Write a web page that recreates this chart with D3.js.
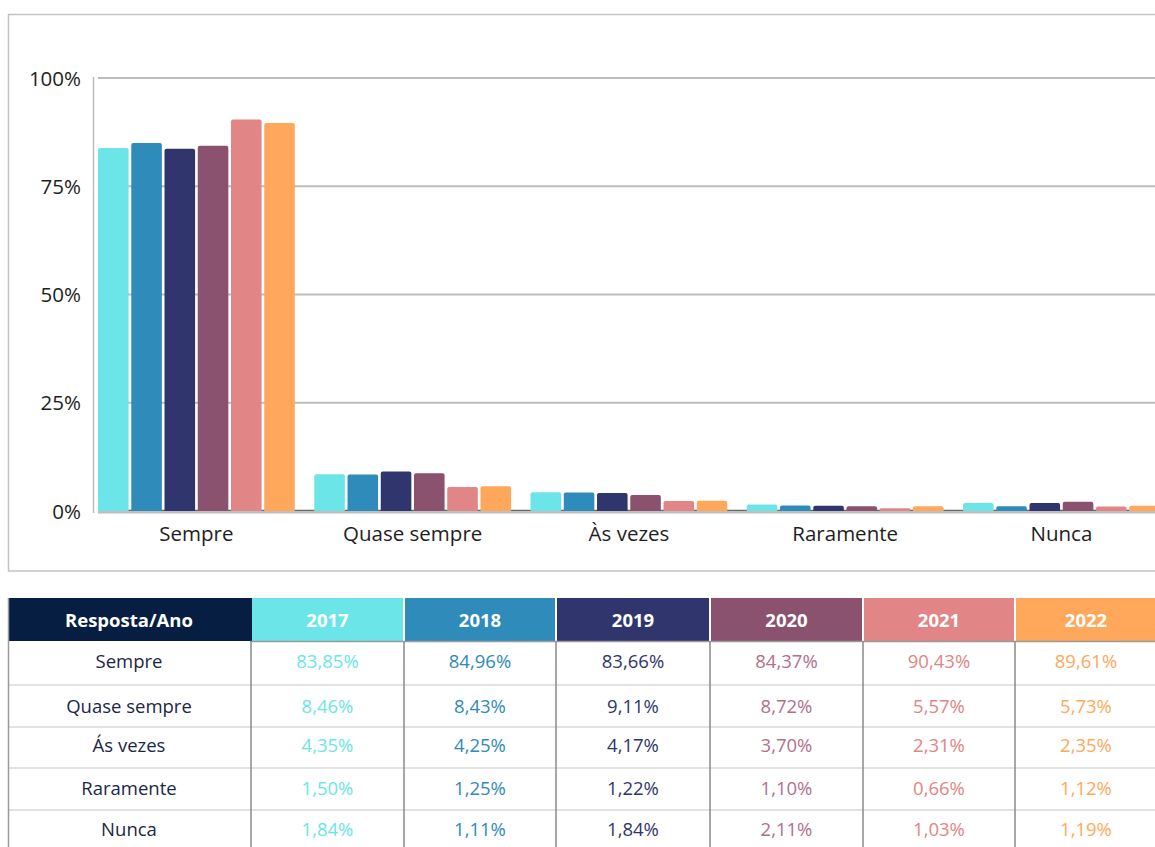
<!DOCTYPE html>
<html>
<head>
<meta charset="utf-8">
<script src="https://cdn.jsdelivr.net/npm/d3@7"></script>
<style>
  html, body { margin: 0; padding: 0; background: #fff; }
  svg { display: block; }
</style>
</head>
<body>
<svg id="chart" width="1155" height="847"></svg>
<script>
// ---------- DATA ----------
const categories = ["Sempre", "Quase sempre", "Às vezes", "Raramente", "Nunca"];
const tableRowLabels = ["Sempre", "Quase sempre", "Ás vezes", "Raramente", "Nunca"];
const years = ["2017", "2018", "2019", "2020", "2021", "2022"];
const values2017 = [83.85, 8.46, 4.35, 1.50, 1.84];
const values2018 = [84.96, 8.43, 4.25, 1.25, 1.11];
const values2019 = [83.66, 9.11, 4.17, 1.22, 1.84];
const values2020 = [84.37, 8.72, 3.70, 1.10, 2.11];
const values2021 = [90.43, 5.57, 2.31, 0.66, 1.03];
const values2022 = [89.61, 5.73, 2.35, 1.12, 1.19];
const yTicks = [0, 25, 50, 75, 100];
const tableHeader = "Resposta/Ano";

const seriesValues = [values2017, values2018, values2019, values2020, values2021, values2022];
const barColors = ["#6CE5E8", "#2E8BBA", "#31356E", "#8B5270", "#E18586", "#FFA85C"];
const textColors = ["#6CE5E8", "#2E8BBA", "#31356E", "#B0708C", "#E18586", "#FFA85C"];

const svg = d3.select("#chart");
const FONT = "'Open Sans', 'Noto Sans', sans-serif";

// ---------- CHART FRAME ----------
svg.append("rect")
  .attr("x", 8.5).attr("y", 14.5).attr("width", 1160).attr("height", 556.5)
  .attr("fill", "#fff").attr("stroke", "#c4c4c4").attr("stroke-width", 1.5);

// ---------- SCALES ----------
const y = d3.scaleLinear().domain([0, 100]).range([511, 78]);
const x0 = d3.scaleBand().domain(categories).range([88.3, 1169.55])
  .paddingInner(0.09).paddingOuter(0.045);
const x1 = d3.scaleBand().domain(years).range([0, x0.bandwidth()])
  .paddingInner(0.08).paddingOuter(0);

svg.append("clipPath").attr("id", "plotclip")
  .append("rect").attr("x", 0).attr("y", 0).attr("width", 1155).attr("height", 847);

// gridlines
svg.append("g").selectAll("line").data(yTicks).join("line")
  .attr("x1", 98).attr("x2", 1155)
  .attr("y1", d => d === 0 ? y(d) + 1.5 : y(d))
  .attr("y2", d => d === 0 ? y(d) + 1.5 : y(d))
  .attr("stroke", "#bdbdbd").attr("stroke-width", 2);

// y axis line
svg.append("line")
  .attr("x1", 93.5).attr("x2", 93.5).attr("y1", y(100) - 1).attr("y2", y(0) + 2)
  .attr("stroke", "#bdbdbd").attr("stroke-width", 1.5);

// y axis tick labels
const yAxis = d3.axisLeft(y).tickValues(yTicks).tickSize(0).tickPadding(0)
  .tickFormat(d => d + "%");
const gy = svg.append("g").attr("transform", "translate(81,0)").call(yAxis);
gy.select(".domain").remove();
gy.selectAll("text").attr("font-family", FONT).attr("font-size", 20.5)
  .attr("fill", "#1e1e1e").attr("dy", "0.35em");

// baseline dark
svg.append("line")
  .attr("x1", 98).attr("x2", 1155).attr("y1", 510.5).attr("y2", 510.5)
  .attr("stroke", "#6a6a6a").attr("stroke-width", 1.5);

// bars
const groups = svg.append("g").attr("clip-path", "url(#plotclip)")
  .selectAll("g").data(categories).join("g")
  .attr("transform", d => `translate(${x0(d)},0)`);

groups.selectAll("path")
  .data((c, ci) => years.map((yr, si) => ({ yr, si, v: seriesValues[si][ci] })))
  .join("path")
  .attr("d", d => {
    const bx = x1(d.yr), bw = x1.bandwidth();
    const top = y(d.v), bot = y(0);
    const r = Math.min(2, (bot - top) / 2);
    return `M${bx},${bot} L${bx},${top + r} Q${bx},${top} ${bx + r},${top} L${bx + bw - r},${top} Q${bx + bw},${top} ${bx + bw},${top + r} L${bx + bw},${bot} Z`;
  })
  .attr("fill", d => barColors[d.si]);

// x axis labels
const xAxis = d3.axisBottom(x0).tickSize(0).tickPadding(0);
const gx = svg.append("g").attr("transform", "translate(0,534)").call(xAxis);
gx.select(".domain").remove();
gx.selectAll("text").attr("font-family", FONT).attr("font-size", 20.5)
  .attr("fill", "#1e1e1e").attr("dy", "0.35em").attr("y", 0);

// ---------- TABLE ----------
const colLabels = [tableHeader].concat(years);
const colX = [8, 252, 405, 557, 711, 864, 1016, 1168];
const headerTop = 598, headerBot = 641;
const rowEdges = [641, 685, 727, 768, 810, 852];
const headColors = ["#061E42"].concat(barColors);

const tbl = svg.append("g");
tbl.selectAll("rect.head").data(colLabels).join("rect")
  .attr("class", "head")
  .attr("x", (d, i) => colX[i])
  .attr("y", headerTop)
  .attr("width", (d, i) => colX[i + 1] - colX[i] - (i === 0 ? 0 : 2))
  .attr("height", headerBot - headerTop)
  .attr("fill", (d, i) => headColors[i]);
tbl.selectAll("text.head").data(colLabels).join("text")
  .attr("class", "head")
  .attr("x", (d, i) => i === 6 ? (colX[i] + 1168) / 2 - 6 : (colX[i] + colX[i + 1]) / 2 - 1)
  .attr("y", (headerTop + headerBot) / 2 + 1)
  .attr("dy", "0.35em")
  .attr("text-anchor", "middle")
  .attr("font-family", FONT).attr("font-size", 18.5).attr("font-weight", 700)
  .attr("fill", "#fff")
  .text(d => d);

// row separators
tbl.selectAll("line.row").data(rowEdges.slice(1, 5)).join("line")
  .attr("class", "row")
  .attr("x1", 8).attr("x2", 1155).attr("y1", d => d).attr("y2", d => d)
  .attr("stroke", "#e3e3e3").attr("stroke-width", 2);
tbl.append("line").attr("x1", 250).attr("x2", 1155).attr("y1", headerBot + 0.5).attr("y2", headerBot + 0.5)
  .attr("stroke", "#9a9a9a").attr("stroke-width", 1.5);
tbl.selectAll("line.col").data(colX.slice(1, 7)).join("line")
  .attr("class", "col")
  .attr("x1", d => d - 1).attr("x2", d => d - 1).attr("y1", headerBot).attr("y2", 847)
  .attr("stroke", "#8a8a8a").attr("stroke-width", 1.5);
tbl.append("line").attr("x1", 8.5).attr("x2", 8.5).attr("y1", headerTop).attr("y2", 847)
  .attr("stroke", "#9a9a9a").attr("stroke-width", 1.5);

// cell text
const rowCenters = [662, 707, 746, 789, 830];
tableRowLabels.forEach((lab, ri) => {
  tbl.append("text")
    .attr("x", 129).attr("y", rowCenters[ri]).attr("dy", "0.35em")
    .attr("text-anchor", "middle")
    .attr("font-family", FONT).attr("font-size", 18.5)
    .attr("fill", "#1B2747")
    .text(lab);
  years.forEach((yr, si) => {
    const cx = si === 5 ? (colX[6] + 1168) / 2 - 6 : (colX[si + 1] + colX[si + 2]) / 2 - 1;
    tbl.append("text")
      .attr("x", cx).attr("y", rowCenters[ri]).attr("dy", "0.35em")
      .attr("text-anchor", "middle")
      .attr("font-family", FONT).attr("font-size", 18.5)
      .attr("fill", textColors[si])
      .text(seriesValues[si][ri].toFixed(2).replace(".", ",") + "%");
  });
});
</script>
</body>
</html>
